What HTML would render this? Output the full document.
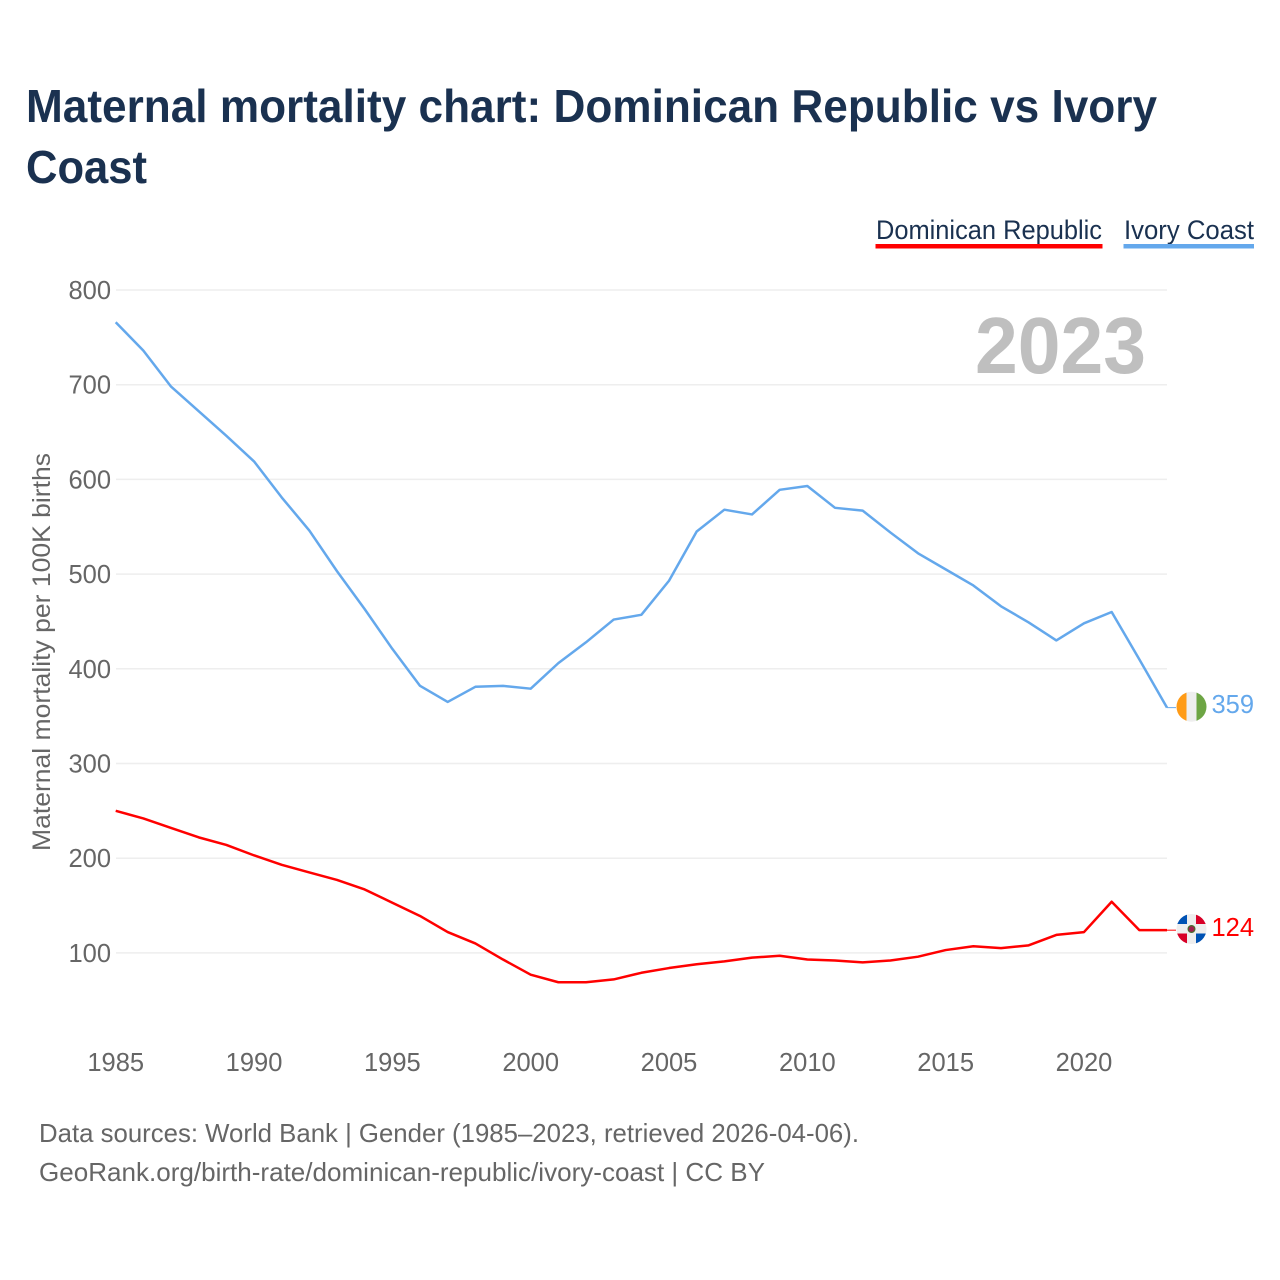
<!DOCTYPE html>
<html lang="en">
<head>
<meta charset="utf-8">
<title>Maternal mortality chart: Dominican Republic vs Ivory Coast</title>
<style>
html,body{margin:0;padding:0;background:#fff;width:1280px;height:1280px;overflow:hidden}
svg{display:block;font-family:"Liberation Sans",sans-serif}
</style>
</head>
<body>
<svg id="chart" xmlns="http://www.w3.org/2000/svg" width="1280" height="1280" viewBox="0 0 1280 1280">
  <rect width="1280" height="1280" fill="#fff"/>
  <g font-size="46" font-weight="700" fill="#1a3150">
    <text x="26" y="122" textLength="1131" lengthAdjust="spacingAndGlyphs">Maternal mortality chart: Dominican Republic vs Ivory</text>
    <text x="26" y="183" textLength="121" lengthAdjust="spacingAndGlyphs">Coast</text>
  </g>
  <g>
    <text x="876" y="239" font-size="27" fill="#1a3150" textLength="226" lengthAdjust="spacingAndGlyphs">Dominican Republic</text>
    <rect x="875.5" y="244" width="227" height="4.5" fill="#ff0000"/>
  </g>
  <g>
    <text x="1124" y="239" font-size="27" fill="#1a3150" textLength="130" lengthAdjust="spacingAndGlyphs">Ivory Coast</text>
    <rect x="1123.5" y="244" width="130.5" height="4.5" fill="#64a8ec"/>
  </g>
  <g id="y-grid"></g>
  <g id="y-ticks"></g>
  <g id="x-ticks"></g>
  <text transform="translate(50,851) rotate(-90)" font-size="25" fill="#666" textLength="398" lengthAdjust="spacingAndGlyphs">Maternal mortality per 100K births</text>
  <text id="year-label" x="1146" y="373" text-anchor="end" font-size="80" font-weight="700" fill="#bfbfbf" textLength="171" lengthAdjust="spacingAndGlyphs">2023</text>
  <g id="series"></g>

  <defs>
    <clipPath id="clip-ci"><circle cx="1191.5" cy="706.7" r="15"/></clipPath>
    <clipPath id="clip-do"><circle cx="1191.5" cy="929" r="15"/></clipPath>
  </defs>
  <g clip-path="url(#clip-ci)">
    <rect x="1176" y="691" width="10.5" height="31" fill="#ff9b16"/>
    <rect x="1186.5" y="691" width="10" height="31" fill="#eeeeee"/>
    <rect x="1196.5" y="691" width="11" height="31" fill="#6da544"/>
  </g>
  <g clip-path="url(#clip-do)">
    <rect x="1176" y="913" width="31" height="32" fill="#eeeeee"/>
    <rect x="1176" y="913" width="11" height="11" fill="#0052b4"/>
    <rect x="1196" y="913" width="11" height="11" fill="#d80027"/>
    <rect x="1176" y="933.5" width="11" height="11.5" fill="#d80027"/>
    <rect x="1196" y="933.5" width="11" height="11.5" fill="#0052b4"/>
    <circle cx="1191.5" cy="929" r="4" fill="#496e2d"/>
    <circle cx="1191.5" cy="929" r="2.8" fill="#a01f4e"/>
  </g>
  <text id="end-ci" x="1254" y="713" text-anchor="end" font-size="25.5" fill="#64a8ec"></text>
  <text id="end-do" x="1254" y="936" text-anchor="end" font-size="25.5" fill="#ff0000"></text>

  <g font-size="26" fill="#666">
    <text x="39" y="1142" textLength="820" lengthAdjust="spacingAndGlyphs">Data sources: World Bank | Gender (1985–2023, retrieved 2026-04-06).</text>
    <text x="39" y="1181" textLength="726" lengthAdjust="spacingAndGlyphs">GeoRank.org/birth-rate/dominican-republic/ivory-coast | CC BY</text>
  </g>
</svg>
<script>
var years = [1985,1986,1987,1988,1989,1990,1991,1992,1993,1994,1995,1996,1997,1998,1999,2000,2001,2002,2003,2004,2005,2006,2007,2008,2009,2010,2011,2012,2013,2014,2015,2016,2017,2018,2019,2020,2021,2022,2023];
var ivoryCoast = [766,736,698,672,646,619,581,546,503,463,421,382,365,381,382,379,406,428,452,457,493,545,568,563,589,593,570,567,544,522,505,488,466,449,430,448,460,410,359];
var dominicanRepublic = [250,242,232,222,214,203,193,185,177,167,153,139,122,110,93,77,69,69,72,79,84,88,91,95,97,93,92,90,92,96,103,107,105,108,119,122,154,124,124];
var yTickLabels = [100,200,300,400,500,600,700,800];
var xTickLabels = [1985,1990,1995,2000,2005,2010,2015,2020];

var NS = 'http://www.w3.org/2000/svg';
function xScale(year){ return 115.7 + (year - 1985) * (1084 - 115.7) / 35; }
function yScale(value){ return 290 + (800 - value) * (952.9 - 290) / 700; }
function make(tag, parent, attrs){
  var el = document.createElementNS(NS, tag);
  for (var k in attrs) el.setAttribute(k, attrs[k]);
  parent.appendChild(el);
  return el;
}
var gridG = document.getElementById('y-grid');
var yTickG = document.getElementById('y-ticks');
var xTickG = document.getElementById('x-ticks');
var seriesG = document.getElementById('series');

yTickLabels.forEach(function(v){
  var line = make('line', gridG, {x1:116, x2:1167, y1:yScale(v), y2:yScale(v), stroke:'#eeeeee', 'stroke-width':1.5});
  
  
  var t = make('text', yTickG, {x:111, y:yScale(v) + 9, 'text-anchor':'end', 'font-size':25.5, fill:'#666'});
  
  
  t.textContent = v;
});
xTickLabels.forEach(function(y){
  var t = make('text', xTickG, {x:xScale(y), y:1071, 'text-anchor':'middle', 'font-size':25.5, fill:'#666'});
  
  
  t.textContent = y;
});
function pathFor(values){
  return values.map(function(v, i){
    return (i ? 'L' : 'M') + xScale(years[i]).toFixed(2) + ' ' + yScale(v).toFixed(2);
  }).join(' ');
}
var redLine = make('path', seriesG, {d:pathFor(dominicanRepublic), fill:'none', stroke:'#ff0000', 'stroke-width':2.5, 'stroke-linejoin':'round'});


var blueLine = make('path', seriesG, {d:pathFor(ivoryCoast), fill:'none', stroke:'#64a8ec', 'stroke-width':2.5, 'stroke-linejoin':'round'});



var lastX = xScale(years[years.length - 1]);
var lastCI = ivoryCoast[ivoryCoast.length - 1];
var lastDO = dominicanRepublic[dominicanRepublic.length - 1];
var connCI = make('line', seriesG, {x1:lastX, x2:lastX + 9, y1:yScale(lastCI), y2:yScale(lastCI), stroke:'#64a8ec', 'stroke-width':1});


var connDO = make('line', seriesG, {x1:lastX, x2:lastX + 9, y1:yScale(lastDO), y2:yScale(lastDO), stroke:'#ff0000', 'stroke-width':1});


document.getElementById('end-ci').textContent = lastCI;
document.getElementById('end-do').textContent = lastDO;
</script>
</body>
</html>
